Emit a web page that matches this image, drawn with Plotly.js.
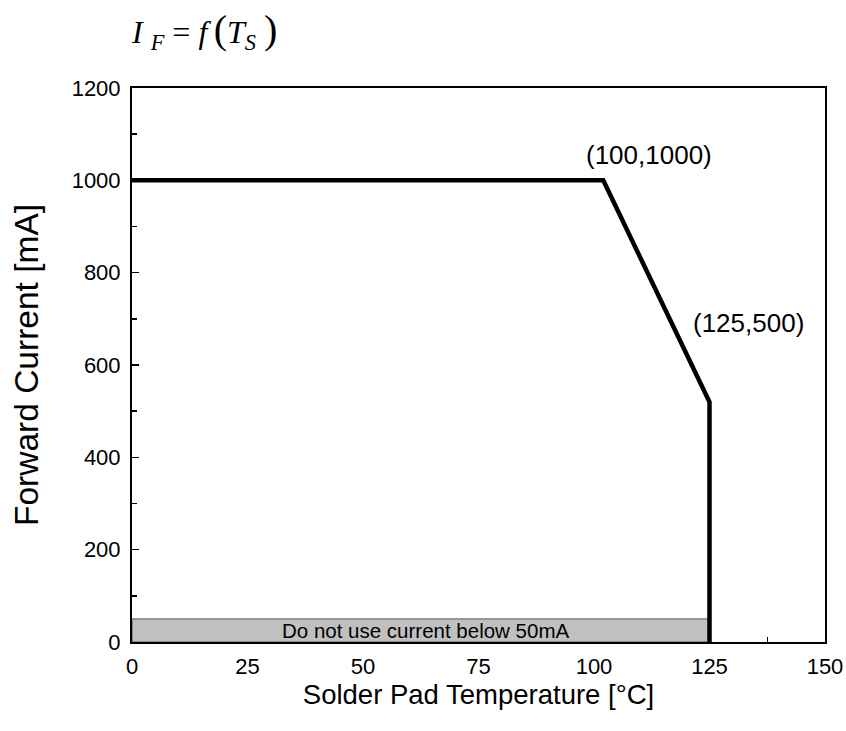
<!DOCTYPE html>
<html>
<head>
<meta charset="utf-8">
<script src="https://cdn.plot.ly/plotly-3.0.1.min.js"></script>
<style>html,body{margin:0;padding:0;background:#fff;}#chart{width:846px;height:731px;}</style>
</head>
<body>
<div id="chart"></div>
<script>
// Derating curve as drawn
const temps = [0, 102, 125, 125];
const currents = [1000, 1000, 520, 0];

// Shaded "do not use" region
const bandTemps = [0, 125, 125, 0, 0];
const bandCurrents = [0, 0, 50, 50, 0];
const bandLabel = 'Do not use current below 50mA';
const bandLabelX = 63.5;
const bandLabelY = 26;

// Point labels
const labelText = ['(100,1000)', '(125,500)'];
const labelX = [112, 133.5];
const labelY = [1055, 690];

const xTicks = [0, 25, 50, 75, 100, 125, 150];
const yTicks = [0, 200, 400, 600, 800, 1000, 1200];

const traces = [
  {
    x: bandTemps, y: bandCurrents, type: 'scatter', mode: 'lines',
    fill: 'toself', fillcolor: '#c0c0c0',
    line: {color: '#555555', width: 1}, hoverinfo: 'skip', showlegend: false
  },
  {
    x: temps, y: currents, type: 'scatter', mode: 'lines',
    line: {color: '#000000', width: 4.5}, showlegend: false
  }
];

const annotations = labelText.map((t, i) => ({
  x: labelX[i], y: labelY[i], xref: 'x', yref: 'y', text: t,
  showarrow: false, font: {family: 'Liberation Sans, Arial, sans-serif', size: 26, color: '#000'}
}));
annotations.push({
  x: bandLabelX, y: bandLabelY, xref: 'x', yref: 'y', text: bandLabel, showarrow: false,
  font: {family: 'Liberation Sans, Arial, sans-serif', size: 20.5, color: '#000'}
});
annotations.push({
  x: (129 - 132) / 693, y: 1 + (88 - 31) / 554, xref: 'paper', yref: 'paper',
  xanchor: 'left', yanchor: 'middle',
  text: '<i>I</i>&nbsp;<sub><i>F</i></sub>&nbsp;=&nbsp;<i>f</i>&#8201;<span style="font-size:40px">(</span><i>T</i><sub><i>S</i></sub>&nbsp;<span style="font-size:40px">)</span>',
  showarrow: false,
  font: {family: 'Liberation Serif, Times New Roman, serif', size: 32, color: '#000'}
});

const layout = {
  width: 846, height: 731,
  margin: {l: 132, r: 21, t: 88, b: 89},
  paper_bgcolor: '#fff', plot_bgcolor: '#fff',
  font: {family: 'Liberation Sans, Arial, sans-serif', color: '#000'},
  xaxis: {
    range: [0, 150], tickvals: xTicks, ticktext: xTicks.map(String),
    ticks: 'inside', ticklen: 7, tickwidth: 1.5, tickcolor: '#000',
    minor: {dtick: 12.5, ticks: 'inside', ticklen: 5, tickwidth: 1.5, tickcolor: '#000'},
    showline: true, linecolor: '#000', linewidth: 2, mirror: true,
    showgrid: false, zeroline: false, layer: 'below traces',
    tickfont: {size: 22}, ticklabelstandoff: 4,
    title: {text: 'Solder Pad Temperature [°C]', font: {size: 27.5}, standoff: 0}
  },
  yaxis: {
    range: [0, 1200], tickvals: yTicks, ticktext: yTicks.map(String),
    ticks: 'inside', ticklen: 7, tickwidth: 1.5, tickcolor: '#000',
    minor: {dtick: 100, ticks: 'inside', ticklen: 5, tickwidth: 1.5, tickcolor: '#000'},
    showline: true, linecolor: '#000', linewidth: 2, mirror: true,
    showgrid: false, zeroline: false,
    tickfont: {size: 22}, ticklabelstandoff: 5,
    title: {text: 'Forward Current [mA]', font: {size: 33.5}, standoff: 23}
  },
  annotations: annotations
};

Plotly.newPlot('chart', traces, layout, {staticPlot: true});
</script>
</body>
</html>
